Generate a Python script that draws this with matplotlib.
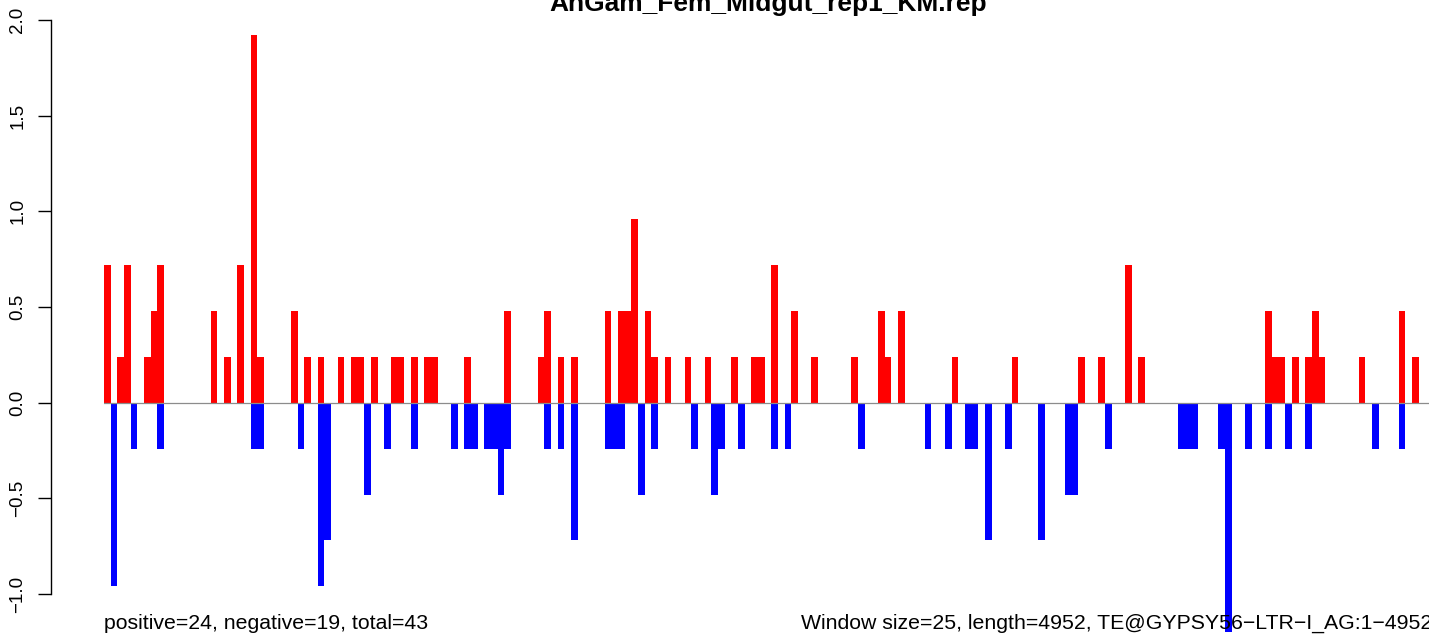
import matplotlib
matplotlib.use("Agg")
import matplotlib.pyplot as plt

plt.rcParams['font.family'] = ['Liberation Sans', 'DejaVu Sans']

# ---- data (window index -> normalised count) ----
n_windows = 199
title = "AnGam_Fem_Midgut_rep1_KM.rep"
left_note = "positive=24, negative=19, total=43"
right_note = "Window size=25, length=4952, TE@GYPSY56\u2212LTR\u2212I_AG:1\u22124952"

pos_idx = [0, 2, 3, 6, 7, 8, 16, 18, 20, 22, 23, 28, 30, 32, 35, 37, 38, 40, 43, 44,
           46, 48, 49, 54, 60, 65, 66, 68, 70, 75, 77, 78, 79, 81, 82, 84, 87, 90, 94,
           97, 98, 100, 103, 106, 112, 116, 117, 119, 127, 136, 146, 149, 153, 155,
           174, 175, 176, 178, 180, 181, 182, 188, 194, 196]
pos_val = [0.72, 0.24, 0.72, 0.24, 0.48, 0.72, 0.48, 0.24, 0.72, 1.92, 0.24, 0.48, 0.24,
           0.24, 0.24, 0.24, 0.24, 0.24, 0.24, 0.24, 0.24, 0.24, 0.24, 0.24, 0.48, 0.24,
           0.48, 0.24, 0.24, 0.48, 0.48, 0.48, 0.96, 0.48, 0.24, 0.24, 0.24, 0.24, 0.24,
           0.24, 0.24, 0.72, 0.48, 0.24, 0.24, 0.48, 0.24, 0.48, 0.24, 0.24, 0.24, 0.24,
           0.72, 0.24, 0.48, 0.24, 0.24, 0.24, 0.24, 0.48, 0.24, 0.24, 0.48, 0.24]

neg_idx = [1, 4, 8, 22, 23, 29, 32, 33, 39, 42, 46, 52, 54, 55, 57, 58, 59, 60, 66, 68,
           70, 75, 76, 77, 80, 82, 88, 91, 92, 95, 100, 102, 113, 123, 126, 129, 130,
           132, 135, 140, 144, 145, 150, 161, 162, 163, 167, 168, 171, 174, 177, 180,
           190, 194]
neg_val = [-0.96, -0.24, -0.24, -0.24, -0.24, -0.24, -0.96, -0.72, -0.48, -0.24, -0.24,
           -0.24, -0.24, -0.24, -0.24, -0.24, -0.48, -0.24, -0.24, -0.24, -0.72, -0.24,
           -0.24, -0.24, -0.48, -0.24, -0.24, -0.48, -0.24, -0.24, -0.24, -0.24, -0.24,
           -0.24, -0.24, -0.24, -0.24, -0.72, -0.24, -0.72, -0.48, -0.48, -0.24, -0.24,
           -0.24, -0.24, -0.24, -1.2, -0.24, -0.24, -0.24, -0.24, -0.24, -0.24]

y_ticks = [-1.0, -0.5, 0.0, 0.5, 1.0, 1.5, 2.0]

# ---- figure ----
W, H = 1429, 639
fig = plt.figure(figsize=(W / 100, H / 100), dpi=100)
px_left, px_right = 104, 1432
ax = fig.add_axes([px_left / W, 0, (px_right - px_left) / W, 1])
ax.set_xlim(0, n_windows)
ax.set_ylim(-(H - 402.7) / 191.3, 402.7 / 191.3)

ax.bar(pos_idx, pos_val, width=1.0, align='edge', color='#ff0000', linewidth=0, zorder=2)
ax.bar(neg_idx, neg_val, width=1.0, align='edge', color='#0000ff', linewidth=0, zorder=2)
ax.axhline(0, color='#8c8c8c', lw=0.9, zorder=3)

for s in ['top', 'right', 'bottom']:
    ax.spines[s].set_visible(False)
ax.spines['left'].set_position(('axes', (51 - px_left) / (px_right - px_left)))
ax.spines['left'].set_bounds(-1, 2)
ax.spines['left'].set_linewidth(1.0)
ax.set_xticks([])
ax.set_yticks(y_ticks)
ax.set_yticklabels([f"{v:.1f}".replace('-', '\u2212') for v in y_ticks])
ax.tick_params(axis='y', length=9.4, width=1.0, pad=8.5, labelsize=13.5)
for lab in ax.get_yticklabels():
    lab.set_rotation(90)
    lab.set_va('center')
    lab.set_ha('right')
ax.patch.set_alpha(0)

fig.text(768 / W, 1 - 11 / H, title, ha='center', va='baseline',
         fontsize=19, fontweight='bold')
fig.text(px_left / W, 1 - 629 / H, left_note, ha='left', va='baseline', fontsize=15.3)
fig.text(px_right / W, 1 - 629 / H, right_note, ha='right', va='baseline', fontsize=15.3)

fig.savefig("out.png", dpi=100)
